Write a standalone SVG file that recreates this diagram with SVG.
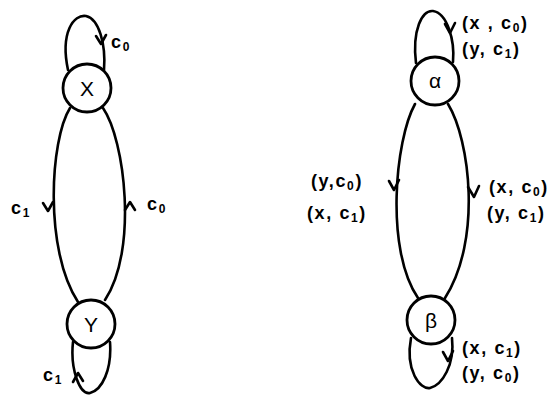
<svg xmlns="http://www.w3.org/2000/svg" width="553" height="395" viewBox="0 0 553 395">
<style>
.ln{fill:none;stroke:#000;stroke-width:2.6;stroke-linecap:round;stroke-linejoin:round}
.nd{fill:#fff;stroke:#000;stroke-width:2.8}
.t{font-family:"Liberation Sans",Arial,sans-serif;font-size:18px;font-weight:bold;fill:#000;letter-spacing:1.6px}
.n{font-family:"Liberation Sans",Arial,sans-serif;font-size:21px;fill:#000;text-anchor:middle}
.s{font-size:12px}
</style>
<rect width="553" height="395" fill="#fff"/>
<g id="connectors">
<path class="ln" d="M68,70 C60,32 74,14 86,16 C99,19 106,44 104,70"/>
<path class="ln" d="M96,36 L101,44 L106,35"/>
<path class="ln" d="M70,108 C50,140 44,250 78,302"/>
<path class="ln" d="M43,203 L48,211 L53,202"/>
<path class="ln" d="M103,108 C125,140 138,250 105,300"/>
<path class="ln" d="M125,210 L130,202 L135,210"/>
<path class="ln" d="M73,342 C70,370 80,395 90,393 C102,390 112,370 110,342"/>
<path class="ln" d="M73,382 L78,373 L83,381"/>
<path class="ln" d="M416,63 C412,30 422,10 433,11 C447,13 455,40 453,62"/>
<path class="ln" d="M445,24 L450,33 L455,23"/>
<path class="ln" d="M415,104 C395,140 385,250 418,298"/>
<path class="ln" d="M389,181 L394,190 L399,180"/>
<path class="ln" d="M448,104 C470,140 482,240 445,298"/>
<path class="ln" d="M468,187 L474,197 L479,186"/>
<path class="ln" d="M411,338 C405,370 420,390 430,388 C442,385 455,365 452,338"/>
<path class="ln" d="M443,352 L448,361 L453,351"/>
</g>
<g id="labels">
<text class="t" x="111" y="48">c<tspan class="s" dy="3">0</tspan></text>
<text class="t" x="11" y="214">c<tspan class="s" dy="3">1</tspan></text>
<text class="t" x="147" y="210">c<tspan class="s" dy="3">0</tspan></text>
<text class="t" x="43" y="381">c<tspan class="s" dy="3">1</tspan></text>
<text class="t" x="462" y="29">(x , c<tspan class="s" dy="3">0</tspan><tspan dy="-3">)</tspan></text>
<text class="t" x="462" y="55">(y, c<tspan class="s" dy="3">1</tspan><tspan dy="-3">)</tspan></text>
<text class="t" x="311" y="187">(y,c<tspan class="s" dy="3">0</tspan><tspan dy="-3">)</tspan></text>
<text class="t" x="307" y="219">(x, c<tspan class="s" dy="3">1</tspan><tspan dy="-3">)</tspan></text>
<text class="t" x="489" y="193">(x, c<tspan class="s" dy="3">0</tspan><tspan dy="-3">)</tspan></text>
<text class="t" x="487" y="219">(y, c<tspan class="s" dy="3">1</tspan><tspan dy="-3">)</tspan></text>
<text class="t" x="462" y="354">(x, c<tspan class="s" dy="3">1</tspan><tspan dy="-3">)</tspan></text>
<text class="t" x="462" y="379">(y, c<tspan class="s" dy="3">0</tspan><tspan dy="-3">)</tspan></text>
</g>
<g id="node-X"><circle class="nd" cx="87" cy="88" r="24"/><text class="n" x="87" y="96">X</text></g>
<g id="node-Y"><circle class="nd" cx="91" cy="324" r="24"/><text class="n" x="91" y="332">Y</text></g>
<g id="node-alpha"><circle class="nd" cx="435" cy="81" r="24"/><text class="n" x="435" y="88">α</text></g>
<g id="node-beta"><circle class="nd" cx="431" cy="320" r="24"/><text class="n" x="431" y="328">β</text></g>
</svg>
